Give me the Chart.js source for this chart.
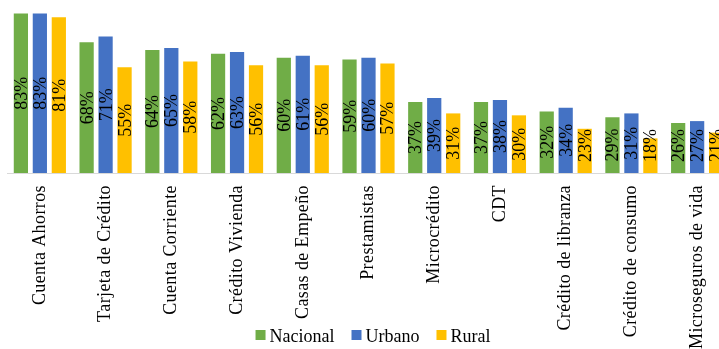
<!DOCTYPE html>
<html>
<head>
<meta charset="utf-8">
<script src="https://cdn.jsdelivr.net/npm/chart.js@4/dist/chart.umd.min.js"></script>
<style>
  html, body { margin: 0; padding: 0; background: #fff; overflow: hidden; }
  #wrap { width: 737px; height: 349px; }
</style>
</head>
<body>
<div id="wrap"><canvas id="c" width="737" height="349"></canvas></div>
<script>
// Productos financieros: porcentaje de uso por zona
const categories = [
  'Cuenta Ahorros', 'Tarjeta de Crédito', 'Cuenta Corriente', 'Crédito Vivienda',
  'Casas de Empeño', 'Prestamistas', 'Microcrédito', 'CDT',
  'Crédito de libranza', 'Crédito de consumo', 'Microseguros de vida'
];
const nacional = [83, 68, 64, 62, 60, 59, 37, 37, 32, 29, 26];
const urbano   = [83, 71, 65, 63, 61, 60, 39, 38, 34, 31, 27];
const rural    = [81, 55, 58, 56, 56, 57, 31, 30, 23, 18, 21];
const seriesNames = ['Nacional', 'Urbano', 'Rural'];
const seriesColors = ['#70AD47', '#4472C4', '#FFC000'];

const FONT = '"Liberation Serif", "Times New Roman", serif';

// Slightly looser tracking for the category labels only
const tickSpacing = {
  id: 'tickSpacing',
  beforeDraw(chart) { chart.ctx.letterSpacing = '0.4px'; },
  beforeDatasetsDraw(chart) { chart.ctx.letterSpacing = '0px'; }
};

// Rotated percentage labels drawn inside each bar
const barLabels = {
  id: 'barLabels',
  afterDatasetsDraw(chart) {
    const ctx = chart.ctx;
    ctx.save();
    ctx.letterSpacing = '0px';
    ctx.font = '18px ' + FONT;
    ctx.fillStyle = '#000';
    ctx.textAlign = 'center';
    ctx.textBaseline = 'alphabetic';
    chart.data.datasets.forEach((ds, di) => {
      const meta = chart.getDatasetMeta(di);
      meta.data.forEach((bar, i) => {
        const { x, y, base } = bar.getProps(['x', 'y', 'base'], true);
        const text = ds.data[i] + '%';
        const len = ctx.measureText(text).width;
        const cy = Math.min((y + base) / 2, base - 11 - len / 2);
        ctx.save();
        ctx.translate(x, cy);
        ctx.rotate(-Math.PI / 2);
        ctx.fillText(text, 0, 6);
        ctx.restore();
      });
    });
    ctx.restore();
  }
};

// Legend row along the bottom, overlapping the category label band
const bottomLegend = {
  id: 'bottomLegend',
  afterDraw(chart) {
    const ctx = chart.ctx;
    ctx.save();
    ctx.letterSpacing = '0px';
    ctx.font = '18px ' + FONT;
    ctx.textBaseline = 'alphabetic';
    const box = 10, gapText = 4, gapItem = 17;
    const items = chart.data.datasets.map(ds => ({
      label: ds.label, color: ds.backgroundColor, w: ctx.measureText(ds.label).width
    }));
    const total = items.reduce((s, it) => s + box + gapText + it.w, 0) + gapItem * (items.length - 1);
    let x = 373 - total / 2;
    const cy = 335;
    items.forEach(it => {
      ctx.fillStyle = it.color;
      ctx.fillRect(x, cy - box / 2, box, box);
      x += box + gapText;
      ctx.fillStyle = '#000';
      ctx.fillText(it.label, x, cy + 7);
      x += it.w + gapItem;
    });
    ctx.restore();
  }
};

const dataSets = [nacional, urbano, rural].map((vals, k) => ({
  label: seriesNames[k],
  data: vals,
  backgroundColor: seriesColors[k],
  borderWidth: 0,
  categoryPercentage: 0.866,
  barPercentage: 0.75
}));

new Chart(document.getElementById('c'), {
  type: 'bar',
  data: { labels: categories, datasets: dataSets },
  options: {
    responsive: false,
    animation: false,
    layout: { padding: { left: 7, right: 7, top: 0, bottom: 0 } },
    plugins: {
      legend: { display: false },
      tooltip: { enabled: false }
    },
    scales: {
      y: { display: false, min: 0, max: 90 },
      x: {
        grid: { display: false, drawTicks: false },
        border: { display: true, color: '#D9D9D9', width: 1 },
        ticks: {
          minRotation: 90,
          maxRotation: 90,
          autoSkip: false,
          padding: 12,
          color: '#000',
          font: { family: FONT, size: 18 }
        },
        afterFit(scale) { scale.height = 176; }
      }
    }
  },
  plugins: [tickSpacing, barLabels, bottomLegend]
});
</script>
</body>
</html>
